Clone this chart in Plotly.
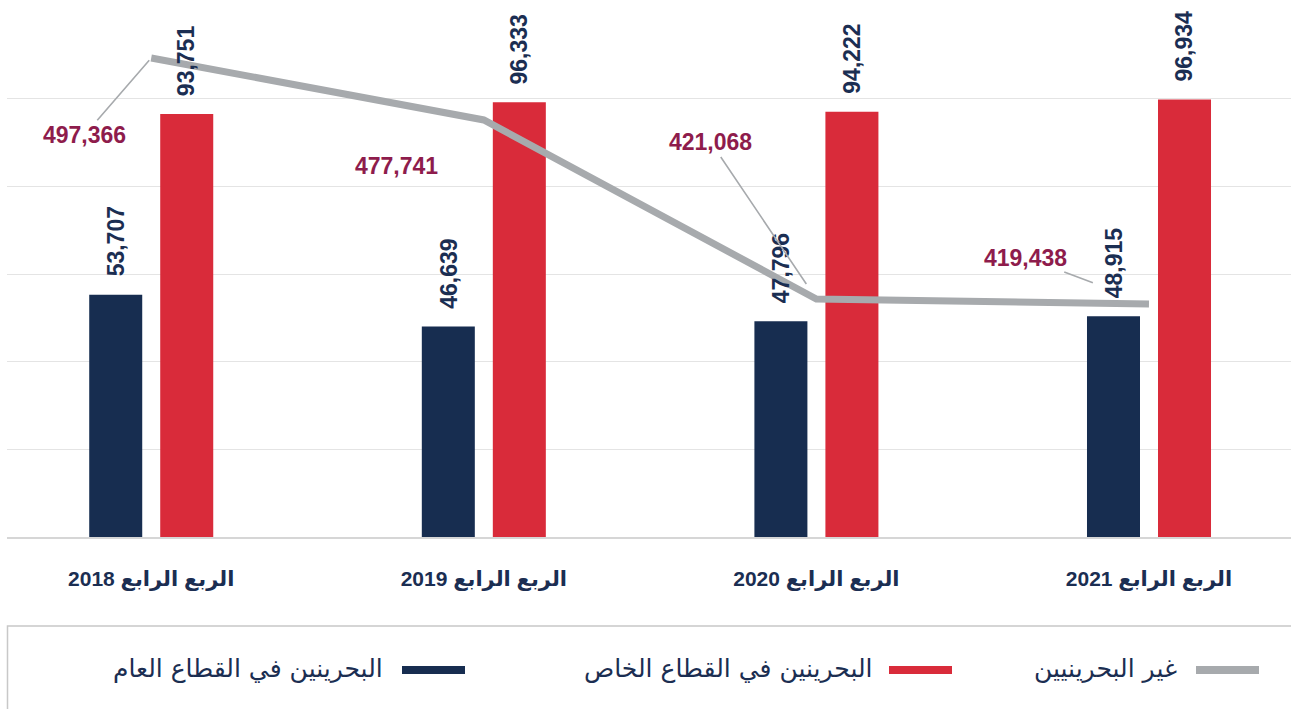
import plotly.graph_objects as go

# ---------------- data ----------------
categories = ["الربع الرابع 2018", "الربع الرابع 2019", "الربع الرابع 2020", "الربع الرابع 2021"]
public_sector = [53707, 46639, 47796, 48915]
private_sector = [93751, 96333, 94222, 96934]
non_bahraini = [497366, 477741, 421068, 419438]
series_names = ["البحرينين في القطاع العام", "البحرينين في القطاع الخاص", "غير البحرينيين"]

# ---------------- styles ----------------
NAVY = "#172d50"
RED = "#d92b3a"
GRAY = "#a7aaad"
MAROON = "#8e1c4c"
TEXT_NAVY = "#1b2e52"
FONT = "Liberation Sans, Arial, DejaVu Sans, sans-serif"

W, H = 1291, 709
ML, MR, MT, MB = 7, 0, 11, 172
PW, PH = W - ML - MR, H - MT - MB

def px_x(px):
    return (px - ML) / PW

def px_y(py):
    return (H - MB - py) / PH

y_max = 116560
y2_range = [345705, 512237]
x_range = [-0.4336, 3.427]
bar_w = 0.1594

fig = go.Figure()
fig.add_trace(go.Bar(x=categories, y=public_sector, name=series_names[0],
                     marker=dict(color=NAVY, line=dict(width=0)),
                     width=bar_w, offset=-0.1864, showlegend=False))
fig.add_trace(go.Bar(x=categories, y=private_sector, name=series_names[1],
                     marker=dict(color=RED, line=dict(width=0)),
                     width=bar_w, offset=0.0271, showlegend=False))
fig.add_trace(go.Scatter(x=categories, y=non_bahraini, name=series_names[2],
                         mode="lines", yaxis="y2",
                         line=dict(color=GRAY, width=7), showlegend=False))

annotations = []
# bar value labels
for cat, v in zip(categories, public_sector):
    annotations.append(dict(x=cat, y=v, xref="x", yref="y", text=f"{v:,}",
                            textangle=-90, showarrow=False, xanchor="center",
                            yanchor="bottom", xshift=-35.5, yshift=16,
                            font=dict(family=FONT, size=23, color=TEXT_NAVY, weight="bold")))
for cat, v in zip(categories, private_sector):
    annotations.append(dict(x=cat, y=v, xref="x", yref="y", text=f"{v:,}",
                            textangle=-90, showarrow=False, xanchor="center",
                            yanchor="bottom", xshift=35.5, yshift=16,
                            font=dict(family=FONT, size=23, color=TEXT_NAVY, weight="bold")))

# line value labels (callouts)
line_label_style = [
    dict(ax=-66.5, ay=76.7, standoff=3, arrow=True),
    dict(ax=-87.8, ay=46.0, standoff=0, arrow=False),
    dict(ax=-105.4, ay=-156.5, standoff=18, arrow=True),
    dict(ax=-123.0, ay=-46.6, standoff=60, arrow=True),
]
for cat, v, st in zip(categories, non_bahraini, line_label_style):
    a = dict(x=cat, y=v, xref="x", yref="y2", text=f"{v:,}",
             font=dict(family=FONT, size=23, color=MAROON, weight="bold"))
    if st["arrow"]:
        a.update(showarrow=True, ax=st["ax"], ay=st["ay"], arrowhead=0,
                 arrowwidth=1.6, arrowcolor=GRAY, standoff=st["standoff"])
    else:
        a.update(showarrow=False, xshift=st["ax"], yshift=-st["ay"])
    annotations.append(a)

# custom RTL legend: text to the left of a line symbol
legend_items = [
    (series_names[0], NAVY, 385, 402, 465),
    (series_names[1], RED, 875, 889, 952),
    (series_names[2], GRAY, 1179, 1196, 1259),
]
shapes = [dict(type="rect", xref="paper", yref="paper",
               x0=px_x(7.5), x1=px_x(1300), y0=px_y(626), y1=px_y(720),
               line=dict(color="#c8c8c8", width=1.5), fillcolor="rgba(0,0,0,0)")]
for name, col, tx, s0, s1 in legend_items:
    shapes.append(dict(type="line", xref="paper", yref="paper",
                       x0=px_x(s0), x1=px_x(s1), y0=px_y(670), y1=px_y(670),
                       line=dict(color=col, width=8)))
    annotations.append(dict(x=px_x(tx), y=px_y(668), xref="paper", yref="paper",
                            text=name, showarrow=False, xanchor="right", yanchor="middle",
                            font=dict(family="DejaVu Sans, sans-serif", size=25, color=TEXT_NAVY)))

fig.update_layout(
    width=W, height=H, autosize=False,
    margin=dict(l=ML, r=MR, t=MT, b=MB, pad=0),
    paper_bgcolor="white", plot_bgcolor="white",
    barmode="group",
    showlegend=False,
    xaxis=dict(type="category", range=x_range, showgrid=False, zeroline=False,
               showline=True, linecolor="#d6d6d6", linewidth=2,
               ticks="", ticklabelstandoff=22,
               tickfont=dict(family=FONT, size=21, color=TEXT_NAVY, weight="bold")),
    yaxis=dict(range=[0, y_max], dtick=y_max / 6, showgrid=True, gridcolor="#e4e4e4",
               gridwidth=1, zeroline=False, showticklabels=False, showline=False),
    yaxis2=dict(range=y2_range, overlaying="y", side="right", showgrid=False,
                zeroline=False, showticklabels=False, showline=False),
    annotations=annotations,
    shapes=shapes,
)

fig.write_html(
    "out.html",
    config={"displayModeBar": False},
    post_script="document.body.style.margin='0';document.body.style.overflow='hidden';",
)
